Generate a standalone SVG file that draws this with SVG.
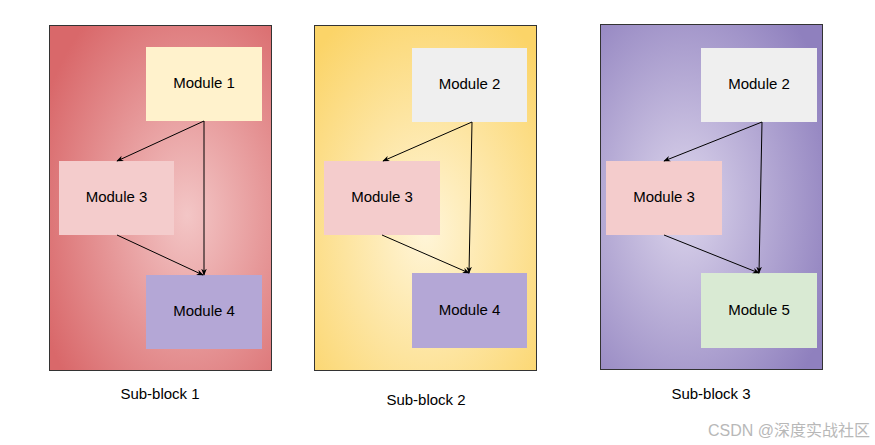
<svg xmlns="http://www.w3.org/2000/svg" width="875" height="445" viewBox="0 0 875 445">
<style>
.frame{stroke:#333;stroke-width:1}
.mod text,.lbl{font-family:"Liberation Sans",Arial,sans-serif;font-size:15px;fill:#000;text-anchor:middle}
.conn line{stroke:#000;stroke-width:1;marker-end:url(#ah)}
.wm{font-family:"Liberation Sans","Noto Sans CJK SC",sans-serif;font-size:16px;fill:#b8b8b8}
</style>
<defs>
<radialGradient id="g1" cx="0.62" cy="0.55" r="0.72">
<stop offset="0" stop-color="#f3c6c6"/>
<stop offset="1" stop-color="#d9686a"/>
</radialGradient>
<radialGradient id="g2" cx="0.5" cy="0.6" r="0.72">
<stop offset="0" stop-color="#fff5d8"/>
<stop offset="1" stop-color="#fbd468"/>
</radialGradient>
<radialGradient id="g3" cx="0.38" cy="0.52" r="0.72">
<stop offset="0" stop-color="#dcd5ec"/>
<stop offset="1" stop-color="#8f80be"/>
</radialGradient>
<marker id="ah" viewBox="0 0 10 10" refX="9" refY="5" markerWidth="7" markerHeight="7" orient="auto" markerUnits="userSpaceOnUse">
<path d="M0,1 L10,5 L0,9 L3,5 Z" fill="#000"/>
</marker>
</defs>
<rect width="875" height="445" fill="#fff"/>

<g id="block1">
<rect class="frame" x="49.5" y="25.5" width="222" height="345" fill="url(#g1)"/>
</g>
<g id="block2">
<rect class="frame" x="314.5" y="25.5" width="222" height="345" fill="url(#g2)"/>
</g>
<g id="block3">
<rect class="frame" x="600.5" y="24.5" width="222" height="345" fill="url(#g3)"/>
</g>

<g id="b1-module1" class="mod"><rect x="146" y="47" width="116" height="74" fill="#fff2cc"/><text x="204" y="88">Module 1</text></g>
<g id="b1-module3" class="mod"><rect x="59" y="161" width="115" height="74" fill="#f4cccc"/><text x="116.5" y="202">Module 3</text></g>
<g id="b1-module4" class="mod"><rect x="146" y="275" width="116" height="74" fill="#b4a7d6"/><text x="204" y="316">Module 4</text></g>

<g id="b2-module2" class="mod"><rect x="412" y="48" width="115" height="74" fill="#efefef"/><text x="469.5" y="89">Module 2</text></g>
<g id="b2-module3" class="mod"><rect x="324" y="161" width="116" height="74" fill="#f4cccc"/><text x="382" y="202">Module 3</text></g>
<g id="b2-module4" class="mod"><rect x="412" y="273" width="115" height="75" fill="#b4a7d6"/><text x="469.5" y="315">Module 4</text></g>

<g id="b3-module2" class="mod"><rect x="701" y="48" width="116" height="74" fill="#efefef"/><text x="759" y="89">Module 2</text></g>
<g id="b3-module3" class="mod"><rect x="606" y="161" width="116" height="74" fill="#f4cccc"/><text x="664" y="202">Module 3</text></g>
<g id="b3-module5" class="mod"><rect x="701" y="273" width="116" height="75" fill="#d9ead3"/><text x="759" y="315">Module 5</text></g>

<g id="connectors" class="conn">
<line x1="204" y1="121" x2="117" y2="161"/>
<line x1="204" y1="121" x2="204" y2="275"/>
<line x1="117" y1="235" x2="203" y2="275"/>
<line x1="472" y1="122" x2="383" y2="161"/>
<line x1="472" y1="122" x2="469" y2="273"/>
<line x1="382" y1="235" x2="469" y2="273"/>
<line x1="762" y1="122" x2="664" y2="161"/>
<line x1="762" y1="122" x2="759" y2="273"/>
<line x1="664" y1="235" x2="759" y2="273"/>
</g>

<text class="lbl" x="160" y="399">Sub-block 1</text>
<text class="lbl" x="426" y="405">Sub-block 2</text>
<text class="lbl" x="711" y="399">Sub-block 3</text>
<text class="wm" x="708" y="436">CSDN @深度实战社区</text>
</svg>
